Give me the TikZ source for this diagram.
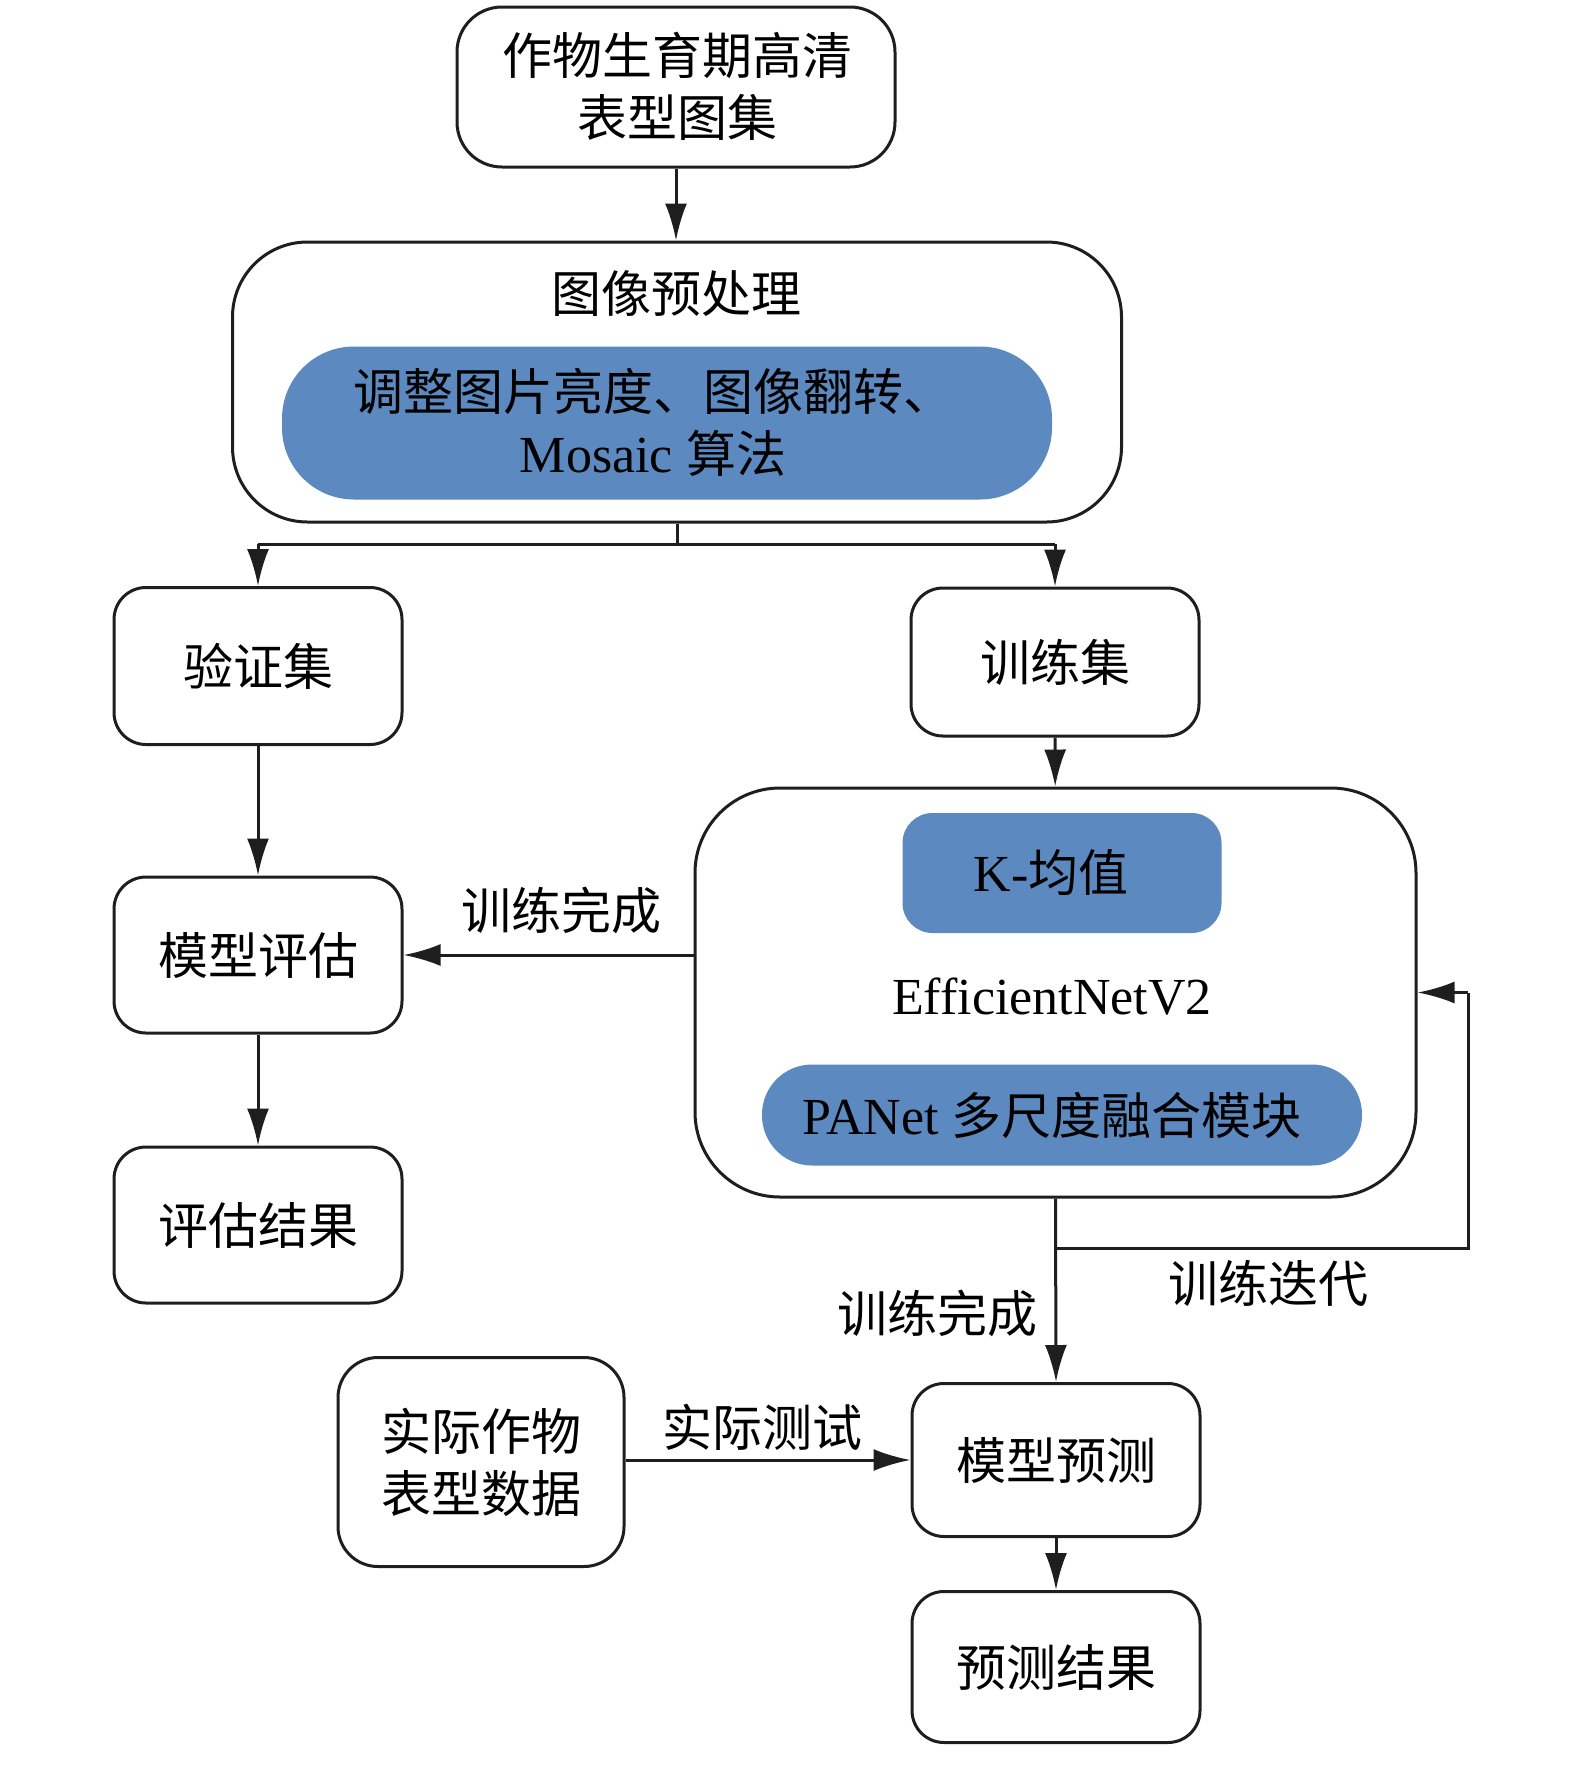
\documentclass[tikz,border=0pt]{standalone}
\usepackage{fontspec}
\setmainfont{Liberation Serif}[Scale=1.04]
\newfontfamily\cjk{Noto Sans CJK SC}
\usetikzlibrary{arrows.meta}
\definecolor{blueF}{RGB}{91,137,192}
\definecolor{lineC}{RGB}{30,30,30}
\tikzset{
  base/.style={line width=3pt, draw=lineC, inner sep=0pt, align=center, font=\fontsize{50}{62}\selectfont},
  sbox/.style={base, rounded corners=32pt},
  bigbox/.style={base, rounded corners=80pt},
  bluebox/.style={fill=blueF, draw=none, inner sep=0pt, align=center},
  lbl/.style={inner sep=0pt, font=\fontsize{50}{62}\selectfont},
  arr/.style={line width=3pt, draw=lineC, -{Latex[length=37pt,width=22pt]}},
  ln/.style={line width=3pt, draw=lineC}
}
\begin{document}
\begin{tikzpicture}[x=1pt,y=-1pt]
\useasboundingbox (0,0) rectangle (1575,1770);
% top box
\node[sbox, rounded corners=45pt, minimum width=438pt, minimum height=160pt] (top) at (676,87) {};
\node[lbl, align=center] (toptxt) at (677,86) {\cjk 作物生育期高清\\\cjk 表型图集};
% preprocessing
\node[bigbox, rounded corners=75pt, minimum width=889pt, minimum height=280pt] (pre) at (677,382) {};
\node[lbl] (pretitle) at (676,294) {\cjk 图像预处理};
\node[bluebox, rounded corners=72pt, minimum width=770pt, minimum height=153pt] (aug) at (667,423) {};
\node[lbl, align=center] (augtxt) at (653,422) {{\cjk 调整图片亮度、图像翻转、}\\Mosaic {\cjk 算法}};
% split
\node[sbox, minimum width=288pt, minimum height=157pt] (val) at (258,666) {\cjk 验证集};
\node[sbox, minimum width=288pt, minimum height=148pt] (train) at (1055,662) {\cjk 训练集};
\coordinate (split) at (677,544);
% big model box
\node[bigbox, rounded corners=85pt, minimum width=721pt, minimum height=409pt] (big) at (1055.5,992.5) {};
\node[bluebox, rounded corners=30pt, minimum width=319pt, minimum height=120pt] (kmeans) at (1062,873) {};
\node[lbl] (kmtxt) at (1051,873) {K-{\cjk 均值}};
\node[lbl] (eff) at (1052,997) {EfficientNetV2};
\node[bluebox, rounded corners=50pt, minimum width=600pt, minimum height=101pt] (panet) at (1062,1115) {};
\node[lbl] (pantxt) at (1052,1115) {PANet {\cjk 多尺度融合模块}};
% left column
\node[sbox, minimum width=288pt, minimum height=156pt] (eval) at (258,955) {\cjk 模型评估};
\node[sbox, minimum width=288pt, minimum height=156pt] (evres) at (258,1225) {\cjk 评估结果};
% bottom
\node[sbox, rounded corners=40pt, minimum width=286pt, minimum height=209pt] (real) at (481,1462) {\cjk 实际作物\\\cjk 表型数据};
\node[sbox, minimum width=288pt, minimum height=153pt] (pred) at (1056,1460) {\cjk 模型预测};
\node[sbox, minimum width=288pt, minimum height=151pt] (pres) at (1056,1667) {\cjk 预测结果};
\coordinate (loopA) at (1055.5,1248);
\coordinate (loopB) at (1468,1248);
\coordinate (loopC) at (1468,992.5);
% connectors
\draw[arr] (top) -- (top |- pre.north);
\draw[ln] (pre.south) -- (split);
\draw[ln] (val.north |- split) -- (train.north |- split);
\draw[arr] (val.north |- split) -- (val.north);
\draw[arr] (train.north |- split) -- (train.north);
\draw[arr] (train) -- (big);
\draw[arr] (val) -- (eval);
\draw[arr] (eval) -- (evres);
\draw[arr] (eval -| big.west) -- (eval.east);
\draw[ln] (big.south) -- (loopA) -- (loopB) -- (loopC);
\draw[arr] (loopC) -- (big.east);
\draw[arr] (big.south) -- (pred.north);
\draw[arr] (real.east |- pred) -- (pred.west);
\draw[arr] (pred) -- (pres);
% labels
\node[lbl] (l1) at (561,910) {\cjk 训练完成};
\node[lbl] (l2) at (1268,1283) {\cjk 训练迭代};
\node[lbl] (l3) at (937,1313) {\cjk 训练完成};
\node[lbl] (l4) at (762,1427) {\cjk 实际测试};
\end{tikzpicture}
\end{document}
